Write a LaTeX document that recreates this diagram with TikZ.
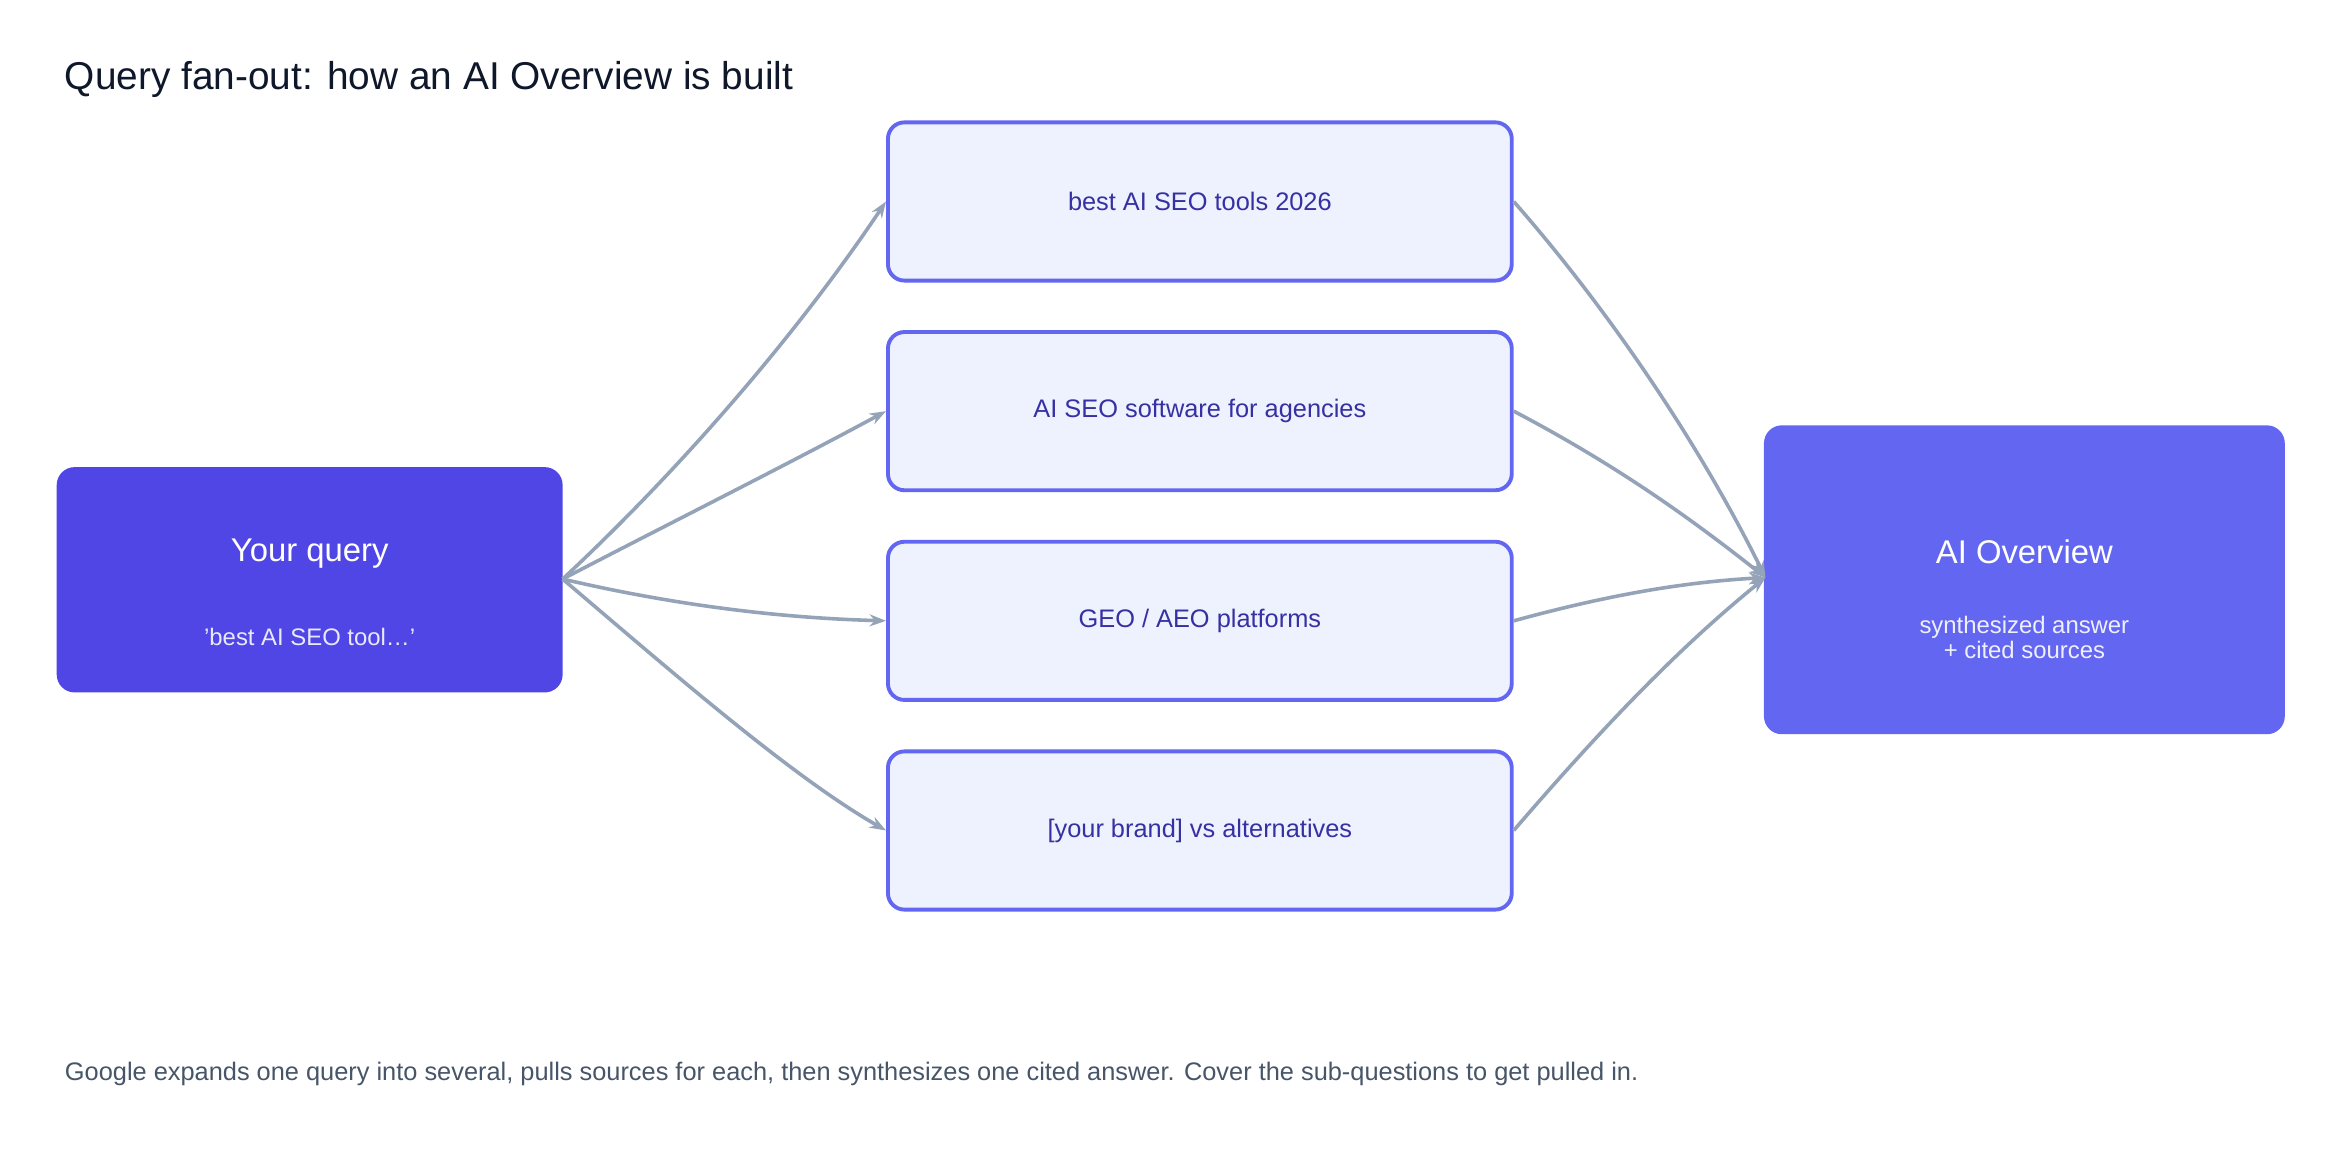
\documentclass[tikz,border=0pt]{standalone}
\usepackage{fontspec}
\setmainfont{Liberation Sans}
\usetikzlibrary{arrows.meta}
\definecolor{qfill}{HTML}{4F46E5}
\definecolor{ofill}{HTML}{6366F1}
\definecolor{mfill}{HTML}{EEF2FF}
\definecolor{mtext}{HTML}{3730A3}
\definecolor{conn}{HTML}{94A3B8}
\definecolor{titlec}{HTML}{0F172A}
\definecolor{footc}{HTML}{475569}
\begin{document}
\begin{tikzpicture}[x=1pt,y=-1pt,
  mid/.style={draw=ofill,line width=2.6pt,fill=mfill,rounded corners=11pt,minimum width=418pt,minimum height=106pt,text=mtext,font=\fontsize{17}{20}\selectfont},
  big/.style={rounded corners=12pt,text=white,inner sep=0pt},
  conn/.style={draw=conn,line width=2.4pt,-{Stealth[length=11pt,width=8pt]}}]
\useasboundingbox (0,0) rectangle (1568,777);
\node[anchor=base west,text=titlec,font=\fontsize{26}{30}\selectfont] (title) at (40,60) {Query fan-out: how an AI Overview is built};
\node[big,fill=qfill,minimum width=339pt,minimum height=151pt] (q) at (207.5,388.5) {};
\node[text=white,font=\fontsize{22}{26}\selectfont] (qt) at (207.5,371) {Your query};
\node[text=white!88!qfill,font=\fontsize{16}{19}\selectfont] (qs) at (207.5,427) {'best AI SEO tool…'};
\node[mid] (b1) at (804,135) {best AI SEO tools 2026};
\node[mid] (b2) at (804,275.5) {AI SEO software for agencies};
\node[mid] (b3) at (804,416) {GEO / AEO platforms};
\node[mid] (b4) at (804,556.5) {[your brand] vs alternatives};
\node[big,fill=ofill,minimum width=349pt,minimum height=207pt] (o) at (1356.5,388.5) {};
\node[text=white,font=\fontsize{22}{26}\selectfont] (ot) at (1356.5,370) {AI Overview};
\node[text=white!90!ofill,font=\fontsize{16}{19}\selectfont,align=center] (os) at (1356.5,427) {synthesized answer\\[-2pt]+ cited sources};
\coordinate (qs0) at (377,388);
\coordinate (oin) at (1183,387);
\draw[conn] (qs0) .. controls (450,320) and (530,230) .. (b1.west);
\draw[conn] (qs0) .. controls (450,350) and (530,310) .. (b2.west);
\draw[conn] (qs0) .. controls (450,405) and (520,414) .. (b3.west);
\draw[conn] (qs0) .. controls (450,450) and (530,520) .. (b4.west);
\draw[conn] (b1.east) .. controls (1080,210) and (1140,300) .. (oin);
\draw[conn] (b2.east) .. controls (1080,310) and (1130,345) .. (oin);
\draw[conn] (b3.east) .. controls (1080,398) and (1130,390) .. (oin);
\draw[conn] (b4.east) .. controls (1080,480) and (1130,430) .. (oin);
\node[anchor=base west,text=footc,font=\fontsize{17}{20}\selectfont] (foot) at (40,724) {Google expands one query into several, pulls sources for each, then synthesizes one cited answer. Cover the sub-questions to get pulled in.};
\end{tikzpicture}
\end{document}
